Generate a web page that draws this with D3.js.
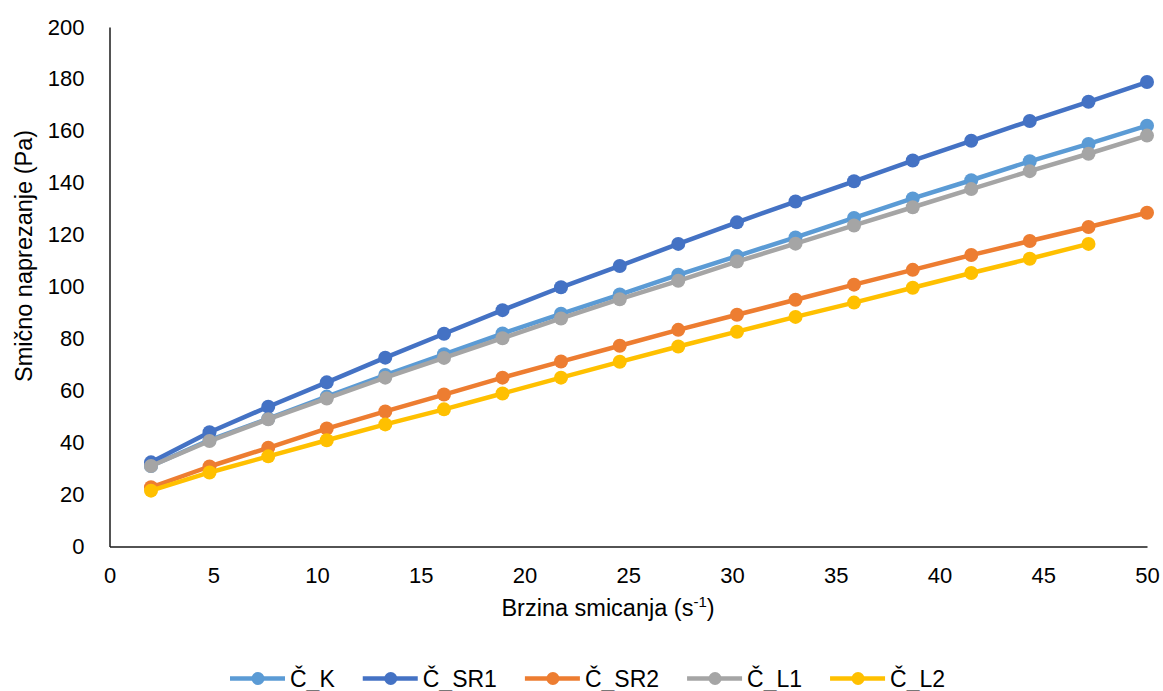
<!DOCTYPE html>
<html><head><meta charset="utf-8">
<script src="https://cdn.jsdelivr.net/npm/d3@7/dist/d3.min.js"></script>
<style>body{margin:0;background:#fff;font-family:"Liberation Sans",Arial,sans-serif;}</style>
</head><body><svg id="c" width="1163" height="691"></svg>
<script>
const shearRate = [2, 4.82, 7.65, 10.47, 13.29, 16.12, 18.94, 21.76, 24.59, 27.41, 30.24, 33.06, 35.88, 38.71, 41.53, 44.35, 47.18, 50];
const seriesNames = ["Č_K", "Č_SR1", "Č_SR2", "Č_L1", "Č_L2"];
const seriesColors = ["#5B9BD5", "#4472C4", "#ED7D31", "#A5A5A5", "#FFC000"];
const vK   = [31, 41, 49.2, 57.7, 66, 74, 82, 89.6, 97, 104.6, 111.8, 119, 126.5, 134, 141, 148.3, 155, 162];
const vSR1 = [32.4, 44, 53.8, 63.2, 72.7, 81.9, 91, 99.8, 108, 116.5, 124.8, 132.8, 140.6, 148.6, 156.2, 163.8, 171.2, 178.8];
const vSR2 = [22.8, 30.8, 38, 45.4, 52, 58.5, 65, 71.2, 77.3, 83.4, 89.2, 95, 100.8, 106.5, 112.2, 117.6, 123, 128.5];
const vL1  = [31, 40.6, 49, 57, 65, 72.6, 80.2, 87.8, 95.2, 102.3, 109.7, 116.6, 123.6, 130.6, 137.6, 144.5, 151.2, 158.2];
const vL2  = [21.5, 28.5, 34.7, 40.9, 47, 52.8, 58.9, 65, 71.1, 77, 82.7, 88.4, 93.9, 99.6, 105.3, 110.8, 116.5];
const seriesValues = [vK, vSR1, vSR2, vL1, vL2];
const xTicks = [0, 5, 10, 15, 20, 25, 30, 35, 40, 45, 50];
const yTicks = [0, 20, 40, 60, 80, 100, 120, 140, 160, 180, 200];

const svg = d3.select("#c");
const m = {l: 109.5, r: 1147, t: 27, b: 546.5};
const x = d3.scaleLinear().domain([0, 50]).range([m.l, m.r]);
const y = d3.scaleLinear().domain([0, 200]).range([m.b, m.t]);
const font = "'Liberation Sans', Arial, sans-serif";

// axes
const gx = svg.append("g").attr("transform", `translate(0,${m.b})`)
  .call(d3.axisBottom(x).tickValues(xTicks).tickSize(0).tickPadding(21).tickFormat(d3.format("d")));
const gy = svg.append("g").attr("transform", `translate(${m.l},0)`)
  .call(d3.axisLeft(y).tickValues(yTicks).tickSize(0).tickPadding(25).tickFormat(d3.format("d")));
[gx, gy].forEach(g => {
  g.select(".domain").attr("stroke", "#1a1a1a").attr("stroke-width", 1.5);
  g.selectAll("text").attr("font-family", font).attr("font-size", 22).attr("fill", "#000");
});

// series
const line = d3.line().x(d => x(d[0])).y(d => y(d[1]));
seriesNames.forEach((name, i) => {
  const pts = seriesValues[i].map((v, j) => [shearRate[j], v]);
  const g = svg.append("g");
  g.append("path").datum(pts).attr("d", line).attr("fill", "none")
    .attr("stroke", seriesColors[i]).attr("stroke-width", 4.5).attr("stroke-linejoin", "round");
  g.selectAll("circle").data(pts).join("circle")
    .attr("cx", d => x(d[0])).attr("cy", d => y(d[1])).attr("r", 7)
    .attr("fill", seriesColors[i]);
});

// axis titles
const xt = svg.append("text").attr("x", 608).attr("y", 616).attr("text-anchor", "middle")
  .attr("font-family", font).attr("font-size", 23.5).attr("fill", "#000");
xt.append("tspan").text("Brzina smicanja (s");
xt.append("tspan").text("-1").attr("font-size", 15).attr("dy", -9);
xt.append("tspan").text(")").attr("dy", 9);

svg.append("text").attr("transform", `translate(32,256) rotate(-90)`)
  .attr("text-anchor", "middle").attr("font-family", font).attr("font-size", 23.5).attr("fill", "#000")
  .text("Smično naprezanje (Pa)");

// legend
const lg = svg.append("g");
let lx = 230;
const ly = 678.5;
seriesNames.forEach((name, i) => {
  const item = lg.append("g");
  item.append("line").attr("x1", lx).attr("x2", lx + 55).attr("y1", ly).attr("y2", ly)
    .attr("stroke", seriesColors[i]).attr("stroke-width", 4.5);
  item.append("circle").attr("cx", lx + 28).attr("cy", ly).attr("r", 6.5).attr("fill", seriesColors[i]);
  const t = item.append("text").attr("x", lx + 60).attr("y", ly + 8.5).attr("font-family", font)
    .attr("font-size", 23).attr("fill", "#000").text(name);
  lx += 60 + t.node().getComputedTextLength() + 28;
});
</script></body></html>
